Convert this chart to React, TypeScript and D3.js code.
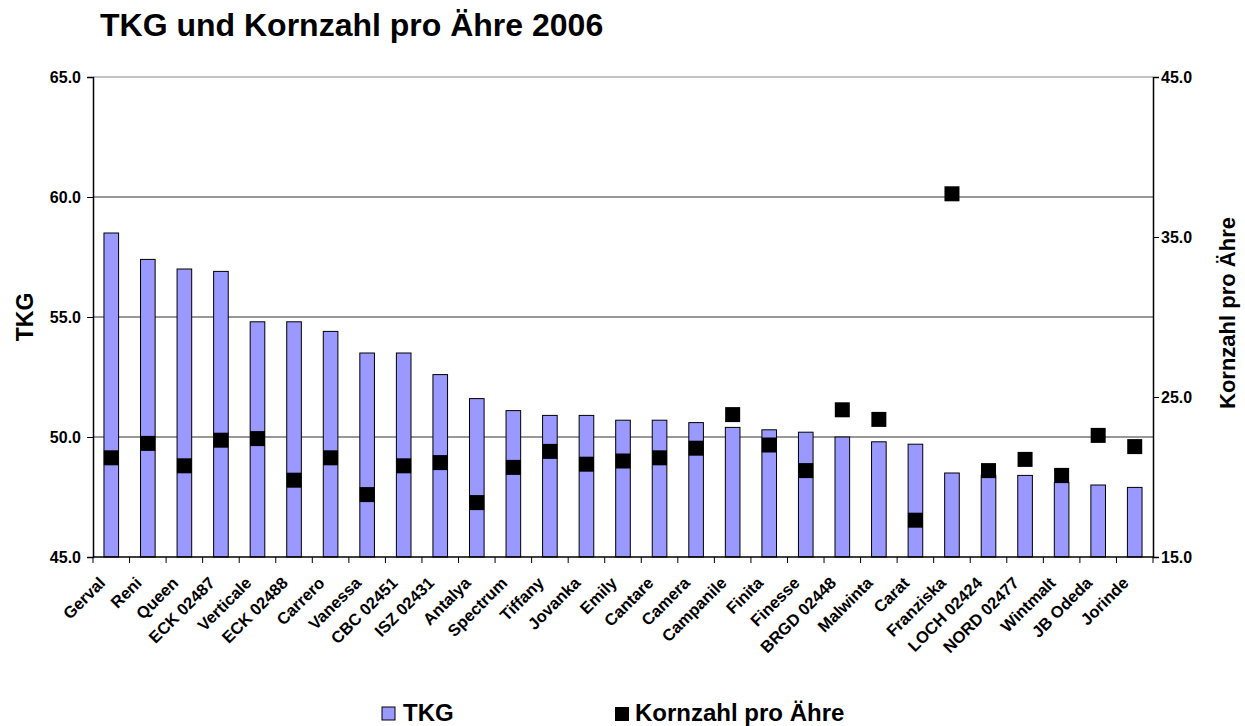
import { useEffect, useRef } from "react";
import * as d3 from "d3";

const sorten = [
  "Gerval", "Reni", "Queen", "ECK 02487", "Verticale", "ECK 02488", "Carrero",
  "Vanessa", "CBC 02451", "ISZ 02431", "Antalya", "Spectrum", "Tiffany", "Jovanka",
  "Emily", "Cantare", "Camera", "Campanile", "Finita", "Finesse", "BRGD 02448",
  "Malwinta", "Carat", "Franziska", "LOCH 02424", "NORD 02477", "Wintmalt",
  "JB Odeda", "Jorinde",
];

const tkg = [
  58.5, 57.4, 57.0, 56.9, 54.8, 54.8, 54.4, 53.5, 53.5, 52.6, 51.6, 51.1, 50.9, 50.9,
  50.7, 50.7, 50.6, 50.4, 50.3, 50.2, 50.0, 49.8, 49.7, 48.5, 48.4, 48.4, 48.1, 48.0, 47.9,
];

const kornzahl = [
  21.2, 22.1, 20.7, 22.3, 22.4, 19.8, 21.2, 18.9, 20.7, 20.9, 18.4, 20.6, 21.6, 20.8,
  21.0, 21.2, 21.8, 23.9, 22.0, 20.4, 24.2, 23.6, 17.3, 37.7, 20.4, 21.1, 20.1, 22.6, 21.9,
];

const leftTicks = [45, 50, 55, 60, 65];
const rightTicks = [15, 25, 35, 45];

const FONT = "'Liberation Sans', Arial, sans-serif";
const BAR_FILL = "#9999FF";

export default function App() {
  const svgRef = useRef<SVGSVGElement>(null);

  useEffect(() => {
    const svg = d3.select(svgRef.current);
    svg.selectAll("*").remove();

    const margin = { left: 93, right: 92, top: 77, bottom: 169 };
    const W = 1245;
    const H = 726;
    const width = W - margin.left - margin.right;
    const height = H - margin.top - margin.bottom;

    const g = svg.append("g").attr("transform", `translate(${margin.left},${margin.top})`);

    const x = d3.scaleBand<string>().domain(sorten).range([0, width]).paddingInner(0.6).paddingOuter(0.3);
    const band = width / sorten.length;
    const yL = d3.scaleLinear().domain([45, 65]).range([height, 0]);
    const yR = d3.scaleLinear().domain([15, 45]).range([height, 0]);

    // Gridlines
    leftTicks.forEach((t) => {
      if (t === 45) return;
      g.append("line")
        .attr("x1", 0).attr("x2", width)
        .attr("y1", yL(t)).attr("y2", yL(t))
        .attr("stroke", t === 65 ? "#888" : "#333")
        .attr("stroke-width", 1);
    });

    // Bars
    g.selectAll("rect.bar")
      .data(tkg)
      .enter()
      .append("rect")
      .attr("class", "bar")
      .attr("x", (_d, i) => x(sorten[i])!)
      .attr("width", x.bandwidth())
      .attr("y", (d) => yL(d))
      .attr("height", (d) => height - yL(d))
      .attr("fill", BAR_FILL)
      .attr("stroke", "#000")
      .attr("stroke-width", 1);

    // Markers
    const ms = 15;
    g.selectAll("rect.mark")
      .data(kornzahl)
      .enter()
      .append("rect")
      .attr("class", "mark")
      .attr("x", (_d, i) => x(sorten[i])! + x.bandwidth() / 2 - ms / 2)
      .attr("y", (d) => yR(d) - ms / 2)
      .attr("width", ms)
      .attr("height", ms)
      .attr("fill", "#000");

    // Left axis
    const axL = g.append("g")
      .call(d3.axisLeft(yL).tickValues(leftTicks).tickSize(6).tickFormat((d) => d3.format(".1f")(d as number)));
    axL.attr("font-size", null).attr("font-family", null);
    axL.select(".domain").attr("stroke", "#000").attr("stroke-width", 1.5);
    axL.selectAll("line").attr("stroke", "#000");
    axL.selectAll("text")
      .attr("font-family", FONT).attr("font-weight", "bold").attr("font-size", 16)
      .attr("fill", "#000").attr("x", -12).attr("dy", "0.36em");

    // Right axis
    const axR = g.append("g").attr("transform", `translate(${width},0)`)
      .call(d3.axisRight(yR).tickValues(rightTicks).tickSize(6).tickFormat((d) => d3.format(".1f")(d as number)));
    axR.attr("font-size", null).attr("font-family", null);
    axR.select(".domain").attr("stroke", "#000").attr("stroke-width", 1.5);
    axR.selectAll("line").attr("stroke", "#000");
    axR.selectAll("text")
      .attr("font-family", FONT).attr("font-weight", "bold").attr("font-size", 16)
      .attr("fill", "#000").attr("x", 8).attr("dy", "0.36em");

    // Bottom axis with ticks between categories
    const bottom = g.append("g").attr("transform", `translate(0,${height})`);
    bottom.append("line").attr("x1", 0).attr("x2", width).attr("y1", 0).attr("y2", 0)
      .attr("stroke", "#000").attr("stroke-width", 1.5);
    d3.range(sorten.length + 1).forEach((i) => {
      bottom.append("line")
        .attr("x1", i * band).attr("x2", i * band)
        .attr("y1", 0).attr("y2", 6)
        .attr("stroke", "#000");
    });
    sorten.forEach((s) => {
      const cx = x(s)! + x.bandwidth() / 2;
      bottom.append("text")
        .attr("transform", `translate(${cx - 5},${27}) rotate(-45)`)
        .attr("text-anchor", "end")
        .attr("font-family", FONT)
        .attr("font-weight", "bold")
        .attr("font-size", 16.5)
        .attr("fill", "#000")
        .text(s);
    });

    // Title
    svg.append("text")
      .attr("x", 100).attr("y", 36)
      .attr("font-family", FONT).attr("font-weight", "bold").attr("font-size", 32)
      .text("TKG und Kornzahl pro Ähre 2006");

    // Axis titles
    svg.append("text")
      .attr("transform", `translate(33,317) rotate(-90)`)
      .attr("text-anchor", "middle")
      .attr("font-family", FONT).attr("font-weight", "bold").attr("font-size", 23)
      .text("TKG");
    svg.append("text")
      .attr("transform", `translate(1235,313) rotate(-90)`)
      .attr("text-anchor", "middle")
      .attr("font-family", FONT).attr("font-weight", "bold").attr("font-size", 22)
      .text("Kornzahl pro Ähre");

    // Legend
    const leg = svg.append("g").attr("transform", "translate(0,721)");
    leg.append("rect").attr("x", 382).attr("y", -14).attr("width", 13).attr("height", 13)
      .attr("fill", BAR_FILL).attr("stroke", "#000");
    leg.append("text").attr("x", 403).attr("y", 0)
      .attr("font-family", FONT).attr("font-weight", "bold").attr("font-size", 24).text("TKG");
    leg.append("rect").attr("x", 615).attr("y", -14).attr("width", 14).attr("height", 14).attr("fill", "#000");
    leg.append("text").attr("x", 635).attr("y", 0)
      .attr("font-family", FONT).attr("font-weight", "bold").attr("font-size", 24).text("Kornzahl pro Ähre");
  }, []);

  return (
    <div style={{ position: "absolute", left: 0, top: 0, background: "#fff" }}>
      <svg ref={svgRef} width={1245} height={726} />
    </div>
  );
}
